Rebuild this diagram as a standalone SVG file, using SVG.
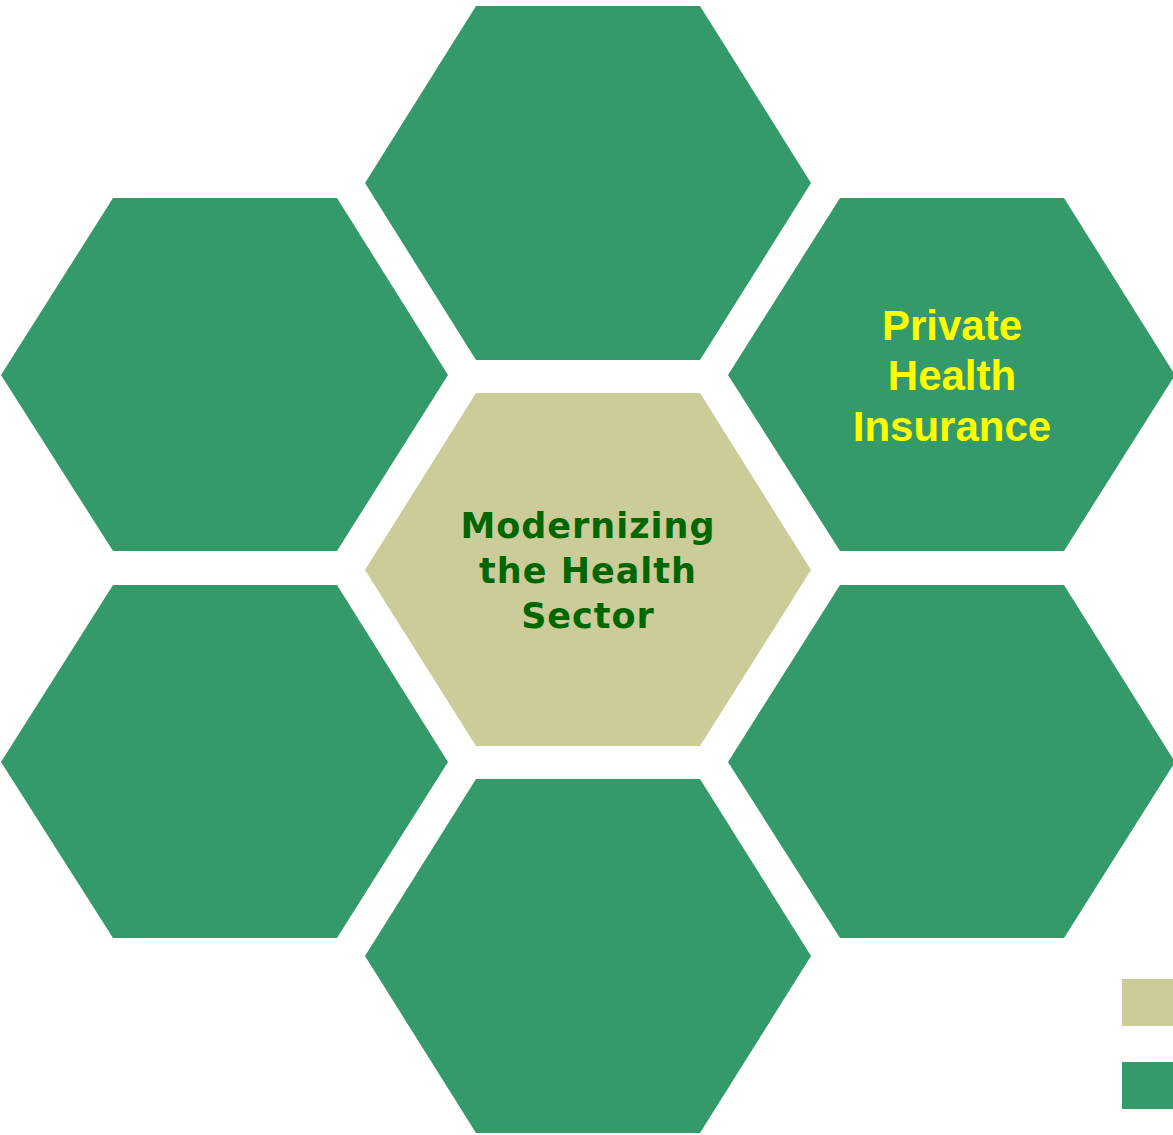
<svg xmlns="http://www.w3.org/2000/svg" width="1173" height="1135" viewBox="0 0 1173 1135">
<style>
.g{fill:#359A6A}
.b{fill:#CCCC99}
.tc{font-family:"DejaVu Sans",Verdana,sans-serif;font-weight:bold;font-size:35px;fill:#006600;text-anchor:middle;letter-spacing:1px}
.tr{font-family:"Liberation Sans",Arial,sans-serif;font-weight:bold;font-size:42px;fill:#FFFF00;text-anchor:middle}
</style>
<rect width="1173" height="1135" fill="#ffffff"/>
<g id="hex-top"><polygon class="g" points="476,6 700,6 811,183 700,360 476,360 365,183"/></g>
<g id="hex-center"><polygon class="b" points="476,393 700,393 811,570 700,746 476,746 365,570"/>
<text class="tc" x="588" y="538">Modernizing</text>
<text class="tc" x="588" y="583">the Health</text>
<text class="tc" x="588" y="628">Sector</text></g>
<g id="hex-bottom"><polygon class="g" points="476,779 700,779 811,956 700,1133 476,1133 365,956"/></g>
<g id="hex-upper-left"><polygon class="g" points="113,198 337,198 448,375 337,551 113,551 1,375"/></g>
<g id="hex-lower-left"><polygon class="g" points="113,585 337,585 448,762 337,938 113,938 1,762"/></g>
<g id="hex-upper-right"><polygon class="g" points="840,198 1064,198 1175,375 1064,551 840,551 728,375"/>
<text class="tr" x="952" y="340">Private</text>
<text class="tr" x="952" y="390">Health</text>
<text class="tr" x="952" y="441">Insurance</text></g>
<g id="hex-lower-right"><polygon class="g" points="840,585 1064,585 1175,762 1064,938 840,938 728,762"/></g>
<g id="legend">
<rect class="b" x="1122" y="979" width="51" height="47"/>
<rect class="g" x="1122" y="1062" width="51" height="47"/>
</g>
<g id="connectors"/>
</svg>
